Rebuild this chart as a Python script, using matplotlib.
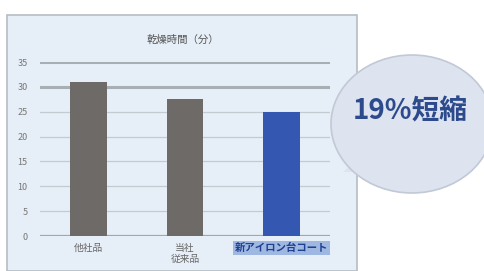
import matplotlib
matplotlib.use("Agg")
import matplotlib.pyplot as plt
from matplotlib.patches import Rectangle, Ellipse, Polygon

plt.rcParams['font.family'] = ['Noto Sans CJK JP', 'DejaVu Sans']

categories = ["他社品", "当社\n従来品", "新アイロン台コート"]
values = [31, 27.5, 25]
bar_colors = ["#6d6a68", "#6d6a68", "#3458b2"]
yticks = [0, 5, 10, 15, 20, 25, 30, 35]
title = "乾燥時間（分）"
callout = "19%短縮"

W, H = 485, 271
fig = plt.figure(figsize=(W / 100, H / 100), dpi=100)
fig.patch.set_facecolor("white")

def fx(px):
    return px / W

def fy(py):
    return 1 - py / H

# panel background
fig.patches.append(Rectangle((fx(7), 0), fx(350), fy(15), transform=fig.transFigure,
                             facecolor="#e6eef7", edgecolor="#b4bcc4", lw=1.2, zorder=-2))
fig.text(fx(183), fy(40), title, ha="center", va="center", fontsize=7.5, color="#555555")

ax = fig.add_axes([fx(40), fy(236), fx(290), (236 - 62) / H])
ax.set_zorder(1)
ax.set_facecolor("none")
ax.set_xlim(-0.5, 2.5)
ax.set_ylim(0, 35)

for v in yticks:
    if v in (30, 35):
        ax.axhline(v, color="#a7aeb4", lw=2.2, zorder=1)
    elif v == 0:
        ax.axhline(v, color="#a0a7ad", lw=1.6, zorder=1)
    else:
        ax.axhline(v, color="#c3cad0", lw=0.9, zorder=1)

ax.bar(range(len(values)), values, width=0.38, color=bar_colors, zorder=2)

for s in ax.spines.values():
    s.set_visible(False)
ax.set_yticks(yticks)
ax.set_yticklabels([str(v) for v in yticks], fontsize=6.5, color="#777777")
ax.tick_params(axis="y", length=0, pad=9)
ax.set_xticks(range(len(categories)))
ax.set_xticklabels(categories, fontsize=7, color="#666666", linespacing=1.1)
ax.tick_params(axis="x", length=0, pad=5)
lab = ax.get_xticklabels()[2]
lab.set_color("#1f3f8f")
lab.set_fontweight("bold")
lab.set_fontsize(7.5)
lab.set_bbox(dict(facecolor="#9fb8e2", edgecolor="none", pad=1.5))

# speech bubble
fig.patches.append(Polygon([(fx(368), fy(150)), (fx(343), fy(172)), (fx(392), fy(172))],
                           closed=True, transform=fig.transFigure,
                           facecolor="#dde4f0", edgecolor="none", zorder=3))
fig.patches.append(Ellipse((fx(412), fy(124)), fx(162), 138 / H, transform=fig.transFigure,
                           facecolor="#dde4f0", edgecolor="#c2c9d6", lw=1.2, zorder=3))
fig.text(fx(410), fy(112), callout, ha="center", va="center", fontsize=20,
         fontweight="bold", color="#2c4a8c", zorder=4)

fig.savefig("out.png", dpi=100)
